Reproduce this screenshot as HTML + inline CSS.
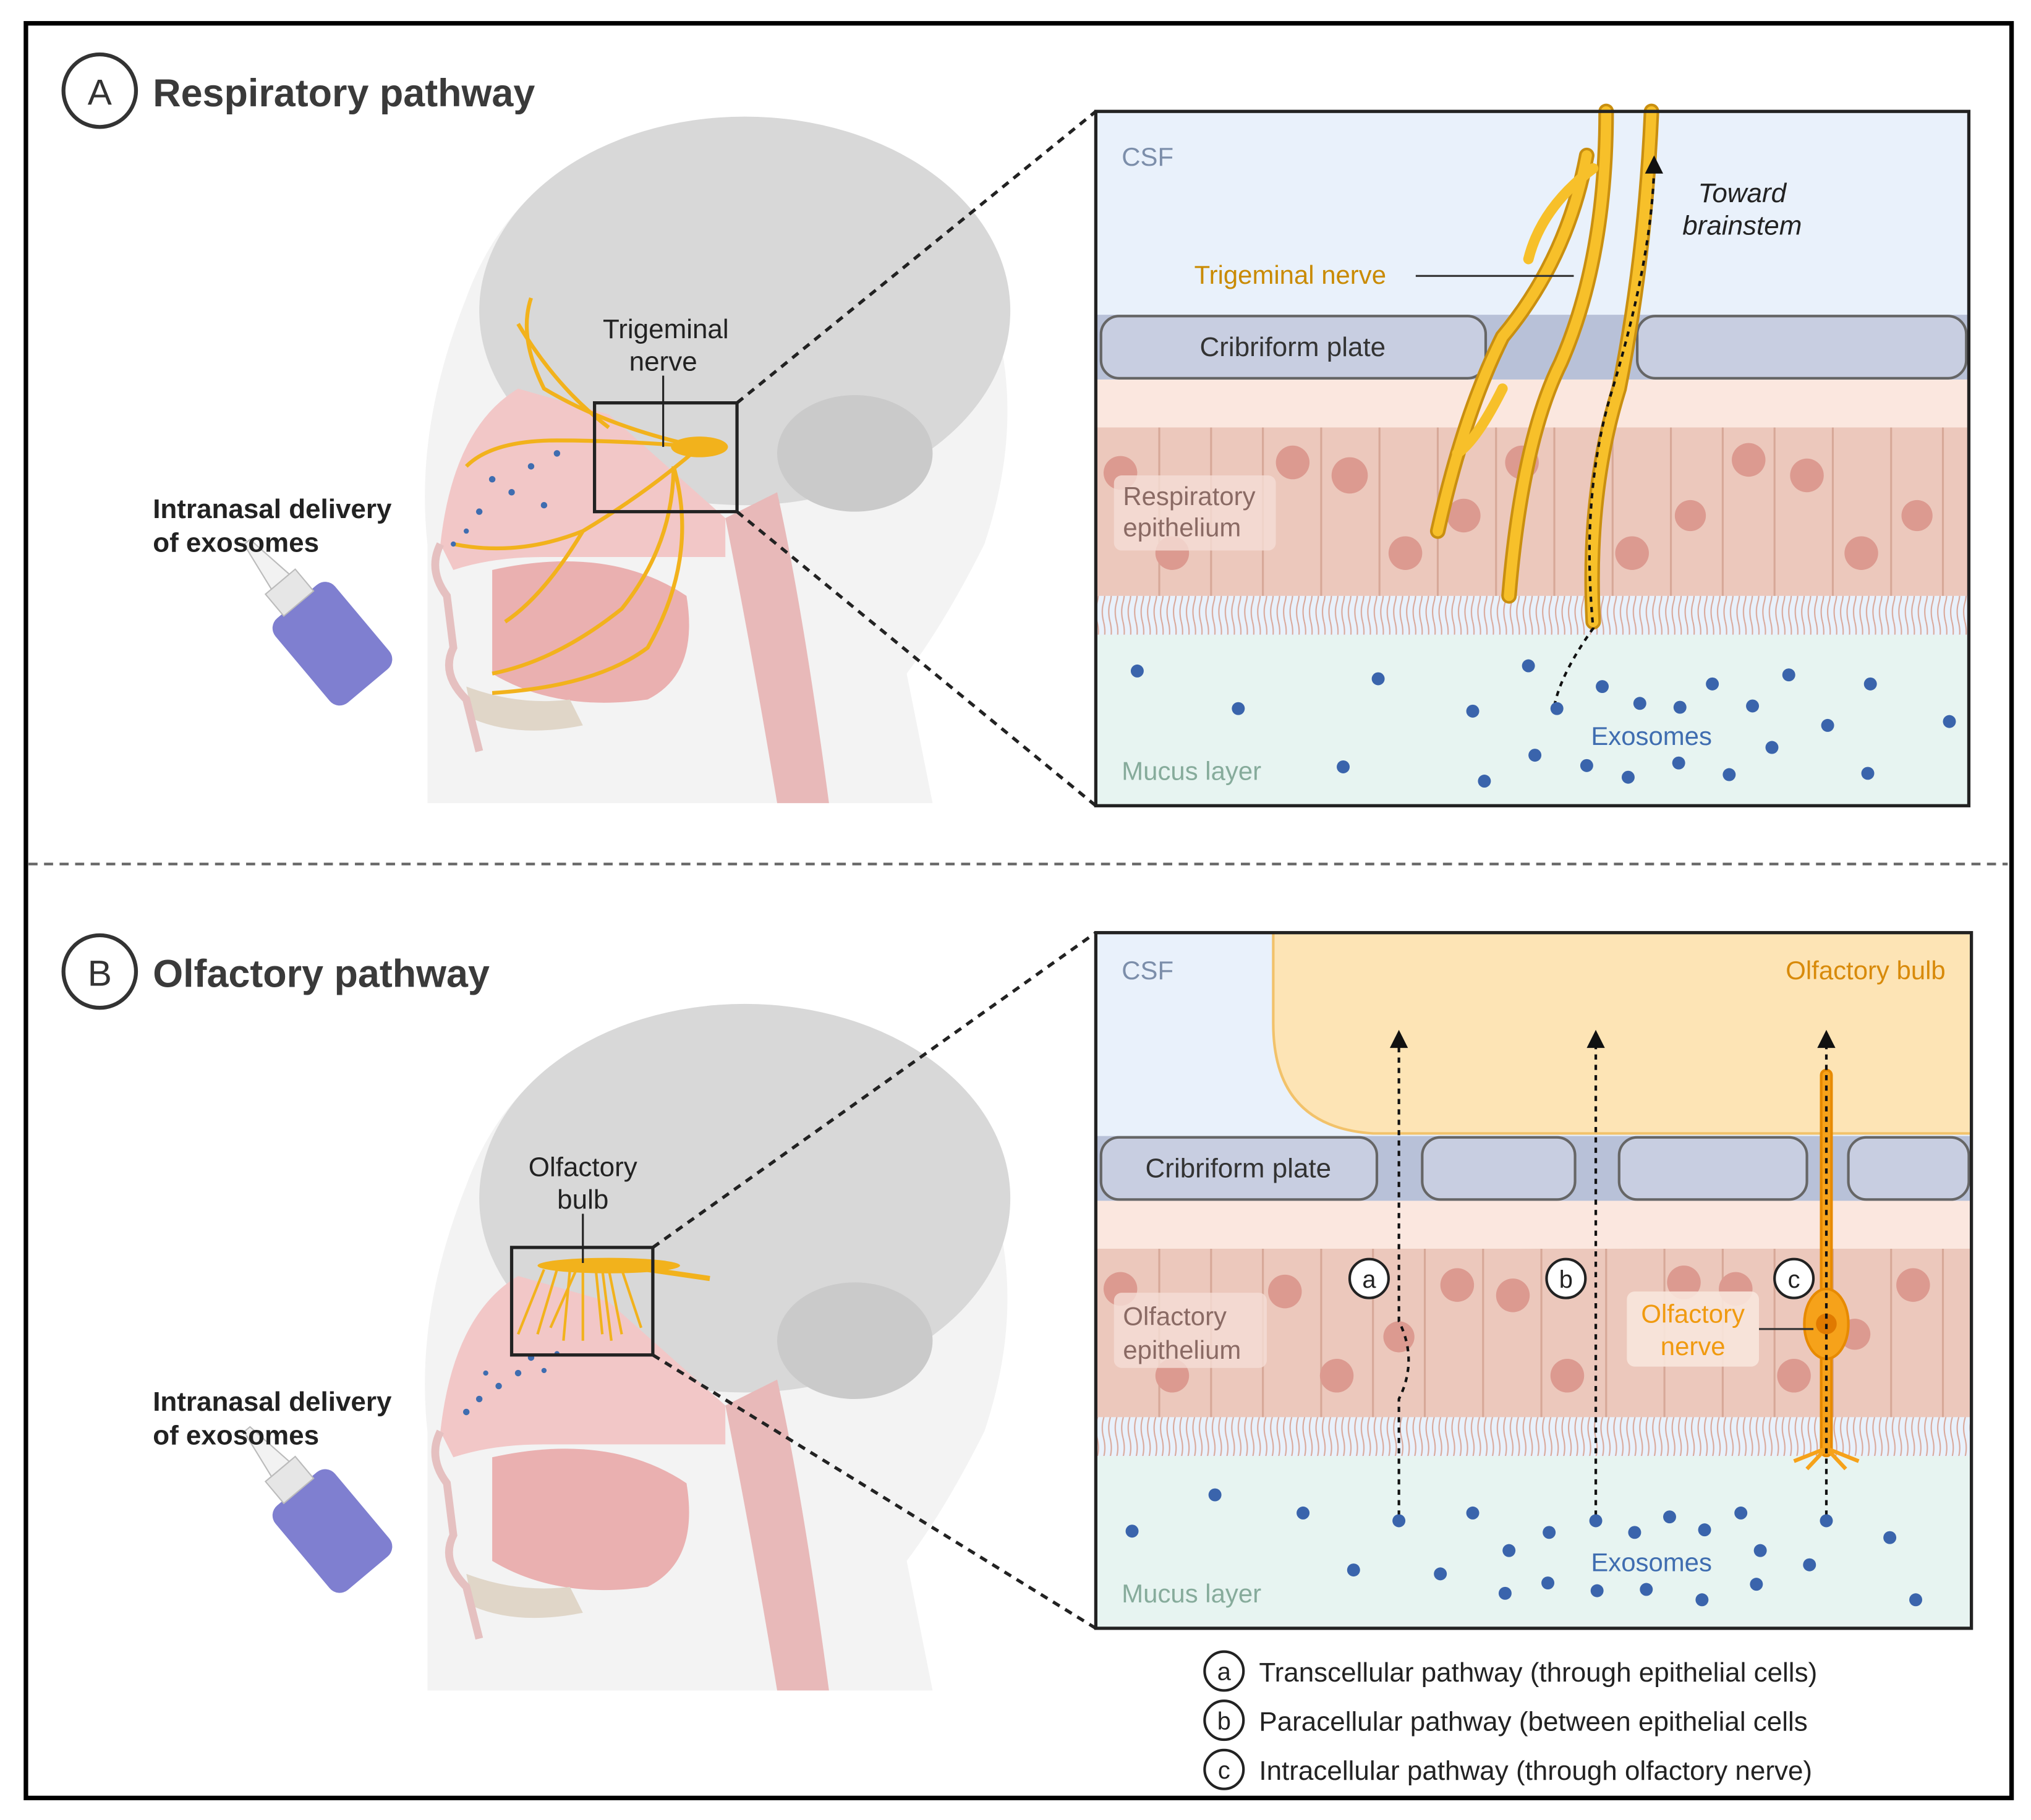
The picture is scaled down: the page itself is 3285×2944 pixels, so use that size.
<!DOCTYPE html>
<html><head><meta charset="utf-8"><style>
html,body{margin:0;padding:0;background:#fff;}
svg{display:block;}
text{font-family:"Liberation Sans",sans-serif;}
</style></head><body>
<svg width="3285" height="2944" viewBox="0 0 1568 1405" preserveAspectRatio="none" xmlns="http://www.w3.org/2000/svg">
<defs>
<pattern id="cil" width="5" height="30" patternUnits="userSpaceOnUse">
<path d="M2 0 Q4 8 2 15 Q0 22 2 30" stroke="#d9a89a" stroke-width="1" fill="none"/>
</pattern>
<g id="head">
  <path d="M330 620 L330 420 Q320 330 360 230 Q400 120 520 100 Q680 80 750 200 Q800 300 760 420 Q730 480 700 520 L720 620 Z" fill="#f3f3f3"/>
  <ellipse cx="575" cy="240" rx="205" ry="150" fill="#d8d8d8"/>
  <ellipse cx="660" cy="350" rx="60" ry="45" fill="#cacaca"/>
  <path d="M600 380 Q620 470 640 620 L600 620 Q580 500 560 400 Z" fill="#e8b9b9"/>
  <path d="M340 420 Q350 330 400 300 L470 320 L560 400 L560 430 L420 430 Q380 430 350 440 Z" fill="#f2c7c7"/>
  <path d="M380 440 Q470 420 530 460 Q540 520 500 540 Q430 550 380 520 Z" fill="#eab0b0"/>
  <path d="M360 530 Q400 545 440 540 L450 560 Q400 570 365 555 Z" fill="#e0d6c8"/>
  <path d="M340 420 Q330 440 345 460 L350 500 Q340 520 360 540 L370 580" stroke="#e5c0c0" stroke-width="6" fill="none"/>
</g>
<g id="bottle">
  <g transform="rotate(-40 255 495)">
    <rect x="225" y="455" width="60" height="85" rx="10" fill="#7f7fd0"/>
    <rect x="240" y="435" width="30" height="22" fill="#e6e6e6" stroke="#bbb"/>
    <path d="M246 435 L252 395 L258 395 L264 435 Z" fill="#f2f2f2" stroke="#bbb"/>
  </g>
</g>
</defs>

<rect x="20" y="18" width="1533" height="1370" fill="#fff" stroke="#000" stroke-width="3.5"/>
<line x1="22" y1="667" x2="1550" y2="667" stroke="#666" stroke-width="2" stroke-dasharray="7,5"/>

<circle cx="77" cy="70" r="28" fill="none" stroke="#333" stroke-width="3"/>
<text x="77" y="81" font-size="28" text-anchor="middle" fill="#333">A</text>
<text x="118" y="82" font-size="30" font-weight="bold" fill="#3a3a3a">Respiratory pathway</text>

<use href="#head"/>
<use href="#bottle"/>
<g stroke="#f2b21c" stroke-width="3" fill="none">
<path d="M540 345 Q470 330 420 300 Q400 260 410 230"/>
<path d="M540 345 Q480 340 430 340 Q380 340 360 360"/>
<path d="M540 345 Q500 380 450 410 Q400 430 350 420"/>
<path d="M520 360 Q520 420 480 470 Q430 510 380 520"/>
<path d="M520 360 Q540 430 500 500 Q460 530 380 535"/>
<path d="M470 330 Q430 300 400 250"/>
<path d="M450 410 Q420 460 390 480"/>
</g>
<ellipse cx="540" cy="345" rx="22" ry="8" fill="#f2b21c"/>
<g fill="#3f6db0">
<circle cx="380" cy="370" r="2.5"/><circle cx="395" cy="380" r="2.5"/><circle cx="410" cy="360" r="2.5"/><circle cx="370" cy="395" r="2.5"/><circle cx="420" cy="390" r="2.5"/><circle cx="360" cy="410" r="2"/><circle cx="430" cy="350" r="2.5"/><circle cx="350" cy="420" r="2"/>
</g>
<rect x="459" y="311" width="110" height="84" fill="none" stroke="#222" stroke-width="2.5"/>
<line x1="512" y1="290" x2="512" y2="345" stroke="#222" stroke-width="1.5"/>
<text x="514" y="261" font-size="21" text-anchor="middle" fill="#222">Trigeminal</text>
<text x="512" y="286" font-size="21" text-anchor="middle" fill="#222">nerve</text>
<text x="118" y="400" font-size="21" font-weight="bold" fill="#222">Intranasal delivery</text>
<text x="118" y="426" font-size="21" font-weight="bold" fill="#222">of exosomes</text>
<line x1="569" y1="311" x2="846" y2="86" stroke="#222" stroke-width="2.5" stroke-dasharray="6,5"/>
<line x1="569" y1="395" x2="846" y2="622" stroke="#222" stroke-width="2.5" stroke-dasharray="6,5"/>

<rect x="846" y="86" width="674" height="536" fill="#e9f1fb"/>
<rect x="846" y="243" width="674" height="50" fill="#b8c1d8"/>
<rect x="846" y="293" width="674" height="40" fill="#fbe7df"/>
<rect x="846" y="330" width="674" height="130" fill="#ecc8bc"/>
<g stroke="#d7a898" stroke-width="1.5">
<line x1="895" y1="330" x2="895" y2="460"/><line x1="935" y1="330" x2="935" y2="460"/><line x1="975" y1="330" x2="975" y2="460"/><line x1="1020" y1="330" x2="1020" y2="460"/><line x1="1065" y1="330" x2="1065" y2="460"/><line x1="1110" y1="330" x2="1110" y2="460"/><line x1="1155" y1="330" x2="1155" y2="460"/><line x1="1200" y1="330" x2="1200" y2="460"/><line x1="1245" y1="330" x2="1245" y2="460"/><line x1="1290" y1="330" x2="1290" y2="460"/><line x1="1330" y1="330" x2="1330" y2="460"/><line x1="1370" y1="330" x2="1370" y2="460"/><line x1="1415" y1="330" x2="1415" y2="460"/><line x1="1460" y1="330" x2="1460" y2="460"/><line x1="1500" y1="330" x2="1500" y2="460"/>
</g>
<g fill="#dc9a90">
<circle cx="865" cy="365" r="13"/><circle cx="998" cy="357" r="13"/><circle cx="1042" cy="367" r="14"/><circle cx="1085" cy="427" r="13"/><circle cx="1130" cy="398" r="13"/><circle cx="1175" cy="357" r="13"/><circle cx="1260" cy="427" r="13"/><circle cx="1305" cy="398" r="12"/><circle cx="1350" cy="355" r="13"/><circle cx="1395" cy="367" r="13"/><circle cx="1437" cy="427" r="13"/><circle cx="1480" cy="398" r="12"/><circle cx="905" cy="427" r="13"/>
</g>
<rect x="846" y="460" width="674" height="30" fill="url(#cil)"/>
<rect x="846" y="490" width="674" height="132" fill="#e7f4f1"/>
<rect x="850" y="244" width="297" height="48" rx="14" fill="#c8cee1" stroke="#666" stroke-width="2"/>
<rect x="1264" y="244" width="254" height="48" rx="14" fill="#c8cee1" stroke="#666" stroke-width="2"/>
<text x="998" y="275" font-size="21" text-anchor="middle" fill="#333">Cribriform plate</text>
<g stroke="#c98f10" stroke-width="12" fill="none" stroke-linecap="round">
<path d="M1275 86 Q1270 200 1250 300 Q1225 380 1230 480"/>
<path d="M1240 86 Q1240 200 1205 280 Q1175 340 1165 460"/>
<path d="M1225 120 Q1210 200 1160 260 Q1130 320 1110 410"/>
</g>
<g stroke="#f7c02a" stroke-width="8" fill="none" stroke-linecap="round">
<path d="M1275 86 Q1270 200 1250 300 Q1225 380 1230 480"/>
<path d="M1240 86 Q1240 200 1205 280 Q1175 340 1165 460"/>
<path d="M1225 120 Q1210 200 1160 260 Q1130 320 1110 410"/>
<path d="M1230 130 Q1190 160 1180 200"/>
<path d="M1160 300 Q1140 340 1125 350"/>
</g>
<path d="M1200 545 Q1205 520 1230 485 Q1220 380 1245 300 Q1275 200 1277 130" stroke="#111" stroke-width="2" stroke-dasharray="4,4" fill="none"/>
<path d="M1277 120 L1270 134 L1284 134 Z" fill="#111"/>
<text x="866" y="128" font-size="20" fill="#7c8eaa">CSF</text>
<text x="1345" y="156" font-size="21" font-style="italic" text-anchor="middle" fill="#222">Toward</text>
<text x="1345" y="181" font-size="21" font-style="italic" text-anchor="middle" fill="#222">brainstem</text>
<text x="922" y="219" font-size="20" fill="#c98a00">Trigeminal nerve</text>
<line x1="1093" y1="213" x2="1215" y2="213" stroke="#333" stroke-width="1.5"/>
<rect x="860" y="367" width="125" height="58" rx="6" fill="#f5ddd6" opacity="0.8"/>
<text x="867" y="390" font-size="20" fill="#8a6a64">Respiratory</text>
<text x="867" y="414" font-size="20" fill="#8a6a64">epithelium</text>
<text x="866" y="602" font-size="20" fill="#86ab9b">Mucus layer</text>
<text x="1275" y="575" font-size="20" text-anchor="middle" fill="#3f6db0">Exosomes</text>
<g fill="#3a64ac">
<circle cx="878" cy="518" r="5"/><circle cx="956" cy="547" r="5"/><circle cx="1064" cy="524" r="5"/><circle cx="1137" cy="549" r="5"/><circle cx="1180" cy="514" r="5"/><circle cx="1202" cy="547" r="5"/><circle cx="1237" cy="530" r="5"/><circle cx="1266" cy="543" r="5"/><circle cx="1297" cy="546" r="5"/><circle cx="1322" cy="528" r="5"/><circle cx="1353" cy="545" r="5"/><circle cx="1381" cy="521" r="5"/><circle cx="1444" cy="528" r="5"/><circle cx="1411" cy="560" r="5"/><circle cx="1505" cy="557" r="5"/><circle cx="1368" cy="577" r="5"/><circle cx="1037" cy="592" r="5"/><circle cx="1146" cy="603" r="5"/><circle cx="1185" cy="583" r="5"/><circle cx="1225" cy="591" r="5"/><circle cx="1257" cy="600" r="5"/><circle cx="1296" cy="589" r="5"/><circle cx="1335" cy="598" r="5"/><circle cx="1442" cy="597" r="5"/>
</g>
<rect x="846" y="86" width="674" height="536" fill="none" stroke="#222" stroke-width="2.5"/>

<circle cx="77" cy="750" r="28" fill="none" stroke="#333" stroke-width="3"/>
<text x="77" y="761" font-size="28" text-anchor="middle" fill="#333">B</text>
<text x="118" y="762" font-size="30" font-weight="bold" fill="#3a3a3a">Olfactory pathway</text>

<g transform="translate(0,685)"><use href="#head"/><use href="#bottle"/></g>
<ellipse cx="470" cy="977" rx="55" ry="6" fill="#f2b21c"/>
<line x1="500" y1="980" x2="548" y2="987" stroke="#f2b21c" stroke-width="4"/>
<g stroke="#f2b21c" stroke-width="2" fill="none">
<path d="M420 980 L400 1030"/><path d="M430 980 L415 1030"/><path d="M440 980 L435 1035"/><path d="M450 980 L450 1035"/><path d="M460 980 L465 1030"/><path d="M470 980 L480 1030"/><path d="M480 980 L495 1025"/><path d="M445 980 L425 1025"/><path d="M465 980 L472 1035"/>
</g>
<g fill="#3f6db0">
<circle cx="370" cy="1080" r="2.5"/><circle cx="385" cy="1070" r="2.5"/><circle cx="400" cy="1060" r="2.5"/><circle cx="360" cy="1090" r="2.5"/><circle cx="410" cy="1048" r="2.5"/><circle cx="420" cy="1058" r="2"/><circle cx="430" cy="1045" r="2"/><circle cx="375" cy="1060" r="2"/>
</g>
<rect x="395" y="963" width="109" height="83" fill="none" stroke="#222" stroke-width="2.5"/>
<line x1="450" y1="937" x2="450" y2="975" stroke="#222" stroke-width="1.5"/>
<text x="450" y="908" font-size="21" text-anchor="middle" fill="#222">Olfactory</text>
<text x="450" y="933" font-size="21" text-anchor="middle" fill="#222">bulb</text>
<text x="118" y="1089" font-size="21" font-weight="bold" fill="#222">Intranasal delivery</text>
<text x="118" y="1115" font-size="21" font-weight="bold" fill="#222">of exosomes</text>
<line x1="504" y1="963" x2="846" y2="720" stroke="#222" stroke-width="2.5" stroke-dasharray="6,5"/>
<line x1="504" y1="1046" x2="846" y2="1257" stroke="#222" stroke-width="2.5" stroke-dasharray="6,5"/>

<rect x="846" y="720" width="676" height="537" fill="#e9f1fb"/>
<path d="M983 720 L1522 720 L1522 875 L1060 875 Q983 870 983 790 Z" fill="#fde4b5" stroke="#f2c26a" stroke-width="2"/>
<rect x="846" y="877" width="676" height="50" fill="#b8c1d8"/>
<rect x="846" y="927" width="676" height="40" fill="#fbe7df"/>
<rect x="846" y="964" width="676" height="130" fill="#ecc8bc"/>
<g stroke="#d7a898" stroke-width="1.5">
<line x1="895" y1="964" x2="895" y2="1094"/><line x1="935" y1="964" x2="935" y2="1094"/><line x1="975" y1="964" x2="975" y2="1094"/><line x1="1020" y1="964" x2="1020" y2="1094"/><line x1="1060" y1="964" x2="1060" y2="1094"/><line x1="1100" y1="964" x2="1100" y2="1094"/><line x1="1145" y1="964" x2="1145" y2="1094"/><line x1="1190" y1="964" x2="1190" y2="1094"/><line x1="1240" y1="964" x2="1240" y2="1094"/><line x1="1285" y1="964" x2="1285" y2="1094"/><line x1="1330" y1="964" x2="1330" y2="1094"/><line x1="1370" y1="964" x2="1370" y2="1094"/><line x1="1415" y1="964" x2="1415" y2="1094"/><line x1="1460" y1="964" x2="1460" y2="1094"/><line x1="1500" y1="964" x2="1500" y2="1094"/>
</g>
<g fill="#dc9a90">
<circle cx="865" cy="995" r="13"/><circle cx="992" cy="997" r="13"/><circle cx="1032" cy="1062" r="13"/><circle cx="1080" cy="1032" r="12"/><circle cx="1125" cy="992" r="13"/><circle cx="1168" cy="1000" r="13"/><circle cx="1210" cy="1062" r="13"/><circle cx="1300" cy="990" r="13"/><circle cx="1340" cy="995" r="13"/><circle cx="1385" cy="1062" r="13"/><circle cx="1432" cy="1030" r="12"/><circle cx="1477" cy="992" r="13"/><circle cx="905" cy="1062" r="13"/>
</g>
<rect x="846" y="1094" width="676" height="30" fill="url(#cil)"/>
<rect x="846" y="1124" width="676" height="133" fill="#e7f4f1"/>
<rect x="850" y="878" width="213" height="48" rx="14" fill="#c8cee1" stroke="#666" stroke-width="2"/>
<rect x="1098" y="878" width="118" height="48" rx="14" fill="#c8cee1" stroke="#666" stroke-width="2"/>
<rect x="1250" y="878" width="145" height="48" rx="14" fill="#c8cee1" stroke="#666" stroke-width="2"/>
<rect x="1427" y="878" width="93" height="48" rx="14" fill="#c8cee1" stroke="#666" stroke-width="2"/>
<text x="956" y="909" font-size="21" text-anchor="middle" fill="#333">Cribriform plate</text>
<line x1="1410" y1="830" x2="1410" y2="1120" stroke="#e78a00" stroke-width="10" stroke-linecap="round"/>
<line x1="1410" y1="830" x2="1410" y2="1120" stroke="#f6a21a" stroke-width="6" stroke-linecap="round"/>
<ellipse cx="1410" cy="1022" rx="17" ry="27" fill="#f6a21a" stroke="#e78a00" stroke-width="2"/>
<circle cx="1410" cy="1022" r="8" fill="#e07a00"/>
<g stroke="#f6a21a" stroke-width="3" fill="none"><path d="M1410 1118 L1385 1128"/><path d="M1410 1118 L1435 1128"/><path d="M1410 1118 L1395 1134"/><path d="M1410 1118 L1425 1134"/></g>
<g stroke="#111" stroke-width="2" stroke-dasharray="4,4" fill="none">
<path d="M1080 1170 L1080 1080 Q1095 1050 1080 1020 L1080 805"/>
<path d="M1232 1170 L1232 805"/>
<path d="M1410 1170 L1410 805"/>
</g>
<g fill="#111"><path d="M1080 795 L1073 809 L1087 809 Z"/><path d="M1232 795 L1225 809 L1239 809 Z"/><path d="M1410 795 L1403 809 L1417 809 Z"/></g>
<g fill="#fff" stroke="#222" stroke-width="2"><circle cx="1057" cy="987" r="15"/><circle cx="1209" cy="987" r="15"/><circle cx="1385" cy="987" r="15"/></g>
<g font-size="19" text-anchor="middle" fill="#222"><text x="1057" y="994">a</text><text x="1209" y="994">b</text><text x="1385" y="994">c</text></g>
<text x="866" y="756" font-size="20" fill="#7c8eaa">CSF</text>
<text x="1502" y="756" font-size="20" text-anchor="end" fill="#d88a0a">Olfactory bulb</text>
<rect x="860" y="998" width="118" height="58" rx="6" fill="#f5ddd6" opacity="0.8"/>
<text x="867" y="1023" font-size="20" fill="#8a6a64">Olfactory</text>
<text x="867" y="1049" font-size="20" fill="#8a6a64">epithelium</text>
<rect x="1256" y="997" width="102" height="58" rx="6" fill="#f8e6dc" opacity="0.9"/>
<text x="1307" y="1021" font-size="20" text-anchor="middle" fill="#f09a10">Olfactory</text>
<text x="1307" y="1046" font-size="20" text-anchor="middle" fill="#f09a10">nerve</text>
<line x1="1358" y1="1026" x2="1400" y2="1026" stroke="#333" stroke-width="1.5"/>
<text x="866" y="1237" font-size="20" fill="#86ab9b">Mucus layer</text>
<text x="1275" y="1213" font-size="20" text-anchor="middle" fill="#3f6db0">Exosomes</text>
<g fill="#3a64ac">
<circle cx="874" cy="1182" r="5"/><circle cx="938" cy="1154" r="5"/><circle cx="1006" cy="1168" r="5"/><circle cx="1080" cy="1174" r="5"/><circle cx="1137" cy="1168" r="5"/><circle cx="1165" cy="1197" r="5"/><circle cx="1196" cy="1183" r="5"/><circle cx="1232" cy="1174" r="5"/><circle cx="1262" cy="1183" r="5"/><circle cx="1289" cy="1171" r="5"/><circle cx="1316" cy="1181" r="5"/><circle cx="1344" cy="1168" r="5"/><circle cx="1359" cy="1197" r="5"/><circle cx="1410" cy="1174" r="5"/><circle cx="1459" cy="1187" r="5"/><circle cx="1397" cy="1208" r="5"/><circle cx="1045" cy="1212" r="5"/><circle cx="1112" cy="1215" r="5"/><circle cx="1162" cy="1230" r="5"/><circle cx="1195" cy="1222" r="5"/><circle cx="1233" cy="1228" r="5"/><circle cx="1271" cy="1227" r="5"/><circle cx="1314" cy="1235" r="5"/><circle cx="1356" cy="1223" r="5"/><circle cx="1479" cy="1235" r="5"/>
</g>
<rect x="846" y="720" width="676" height="537" fill="none" stroke="#222" stroke-width="2.5"/>

<g fill="#fff" stroke="#222" stroke-width="2"><circle cx="945" cy="1290" r="15"/><circle cx="945" cy="1328" r="15"/><circle cx="945" cy="1366" r="15"/></g>
<g font-size="19" text-anchor="middle" fill="#222"><text x="945" y="1297">a</text><text x="945" y="1335">b</text><text x="945" y="1373">c</text></g>
<g font-size="21" fill="#222">
<text x="972" y="1298">Transcellular pathway (through epithelial cells)</text>
<text x="972" y="1336">Paracellular pathway (between epithelial cells</text>
<text x="972" y="1374">Intracellular pathway (through olfactory nerve)</text>
</g>
</svg>
</body></html>
